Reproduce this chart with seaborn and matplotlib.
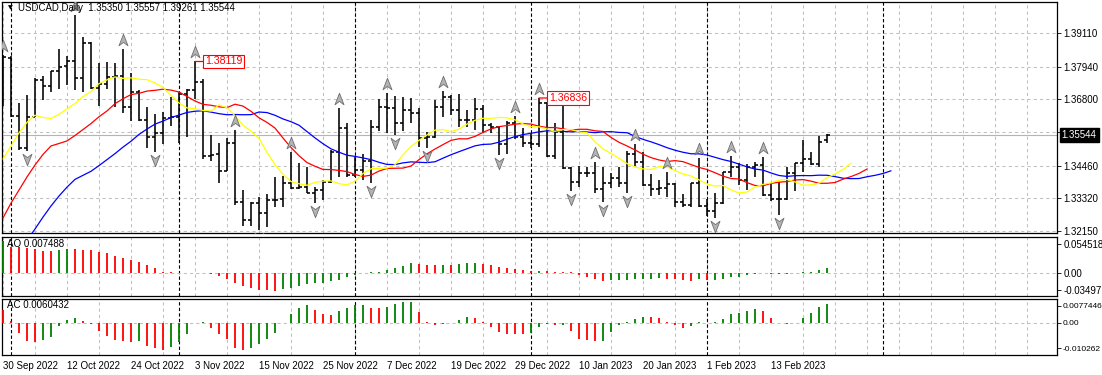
import numpy as np
import matplotlib
matplotlib.use("Agg")
import matplotlib.pyplot as plt
import seaborn as sns
from matplotlib.path import Path
from matplotlib.transforms import offset_copy, blended_transform_factory

# ---------------- data ----------------
opens = [1.3677, 1.3823, 1.3622, 1.3509, 1.3618, 1.3747, 1.3726, 1.3779, 1.3796, 1.3814,
         1.3753, 1.3878, 1.3718, 1.3733, 1.3759, 1.3761, 1.3651, 1.3705, 1.3606, 1.3548,
         1.3560, 1.3612, 1.3618, 1.3697, 1.3712, 1.3741, 1.3478, 1.3487, 1.3428, 1.3527,
         1.3319, 1.3253, 1.3314, 1.3278, 1.3325, 1.3328, 1.3384, 1.3366, 1.3372, 1.3351,
         1.3360, 1.3390, 1.3495, 1.3577, 1.3413, 1.3430, 1.3463, 1.3583, 1.3651, 1.3647,
         1.3595, 1.3642, 1.3630, 1.3542, 1.3545, 1.3653, 1.3688, 1.3642, 1.3606, 1.3606,
         1.3644, 1.3589, 1.3583, 1.3522, 1.3597, 1.3548, 1.3524, 1.3522, 1.3665, 1.3480,
         1.3565, 1.3437, 1.3390, 1.3421, 1.3419, 1.3363, 1.3384, 1.3401, 1.3384, 1.3487,
         1.3460, 1.3378, 1.3363, 1.3366, 1.3381, 1.3319, 1.3308, 1.3386, 1.3304, 1.3288,
         1.3314, 1.3425, 1.3442, 1.3396, 1.3442, 1.3448, 1.3343, 1.3328, 1.3328, 1.3419,
         1.3456, 1.3468, 1.3452, 1.3535]
highs = [1.3835, 1.3831, 1.3665, 1.3694, 1.3755, 1.3761, 1.3780, 1.3855, 1.3831, 1.3977,
         1.3897, 1.3882, 1.3808, 1.3811, 1.3806, 1.3855, 1.3773, 1.3712, 1.3651, 1.3628,
         1.3636, 1.3686, 1.3703, 1.3714, 1.38119, 1.3749, 1.3554, 1.3524, 1.3542, 1.3571,
         1.3360, 1.3319, 1.3337, 1.3345, 1.3405, 1.3410, 1.3495, 1.3454, 1.3442, 1.3372,
         1.3396, 1.3501, 1.3647, 1.3595, 1.3475, 1.3487, 1.3606, 1.3679, 1.3700, 1.3691,
         1.3688, 1.3683, 1.3647, 1.3565, 1.3677, 1.3709, 1.3694, 1.3698, 1.3642, 1.3683,
         1.3659, 1.3595, 1.3585, 1.3604, 1.3620, 1.3577, 1.3560, 1.36836, 1.3671, 1.3595,
         1.3665, 1.3442, 1.3445, 1.3442, 1.3457, 1.3440, 1.3419, 1.3442, 1.3499, 1.3522,
         1.3495, 1.3417, 1.3396, 1.3425, 1.3384, 1.3347, 1.3386, 1.3472, 1.3328, 1.3349,
         1.3425, 1.3478, 1.3456, 1.3452, 1.3460, 1.3475, 1.3384, 1.3390, 1.3442, 1.3456,
         1.3536, 1.3495, 1.3550, 1.35557]
lows = [1.3656, 1.3618, 1.3501, 1.3499, 1.3616, 1.3677, 1.3703, 1.3714, 1.3729, 1.3710,
        1.3706, 1.3714, 1.3656, 1.3714, 1.3653, 1.3630, 1.3604, 1.3604, 1.3507, 1.3495,
        1.3522, 1.3585, 1.3527, 1.3545, 1.3679, 1.3468, 1.3463, 1.3386, 1.3426, 1.3308,
        1.3234, 1.3235, 1.3220, 1.3231, 1.3299, 1.3299, 1.3363, 1.3363, 1.3349, 1.3316,
        1.3325, 1.3386, 1.3407, 1.3407, 1.3407, 1.3396, 1.3384, 1.3569, 1.3560, 1.3554,
        1.3569, 1.3595, 1.3513, 1.3507, 1.3542, 1.3616, 1.3624, 1.3583, 1.3583, 1.3571,
        1.3560, 1.3560, 1.3483, 1.3487, 1.3538, 1.3513, 1.3507, 1.3513, 1.3475, 1.3468,
        1.3433, 1.3355, 1.3372, 1.3407, 1.3349, 1.3319, 1.3366, 1.3372, 1.3349, 1.3445,
        1.3375, 1.3339, 1.3343, 1.3337, 1.3299, 1.3301, 1.3301, 1.3299, 1.3269, 1.3261,
        1.3311, 1.3405, 1.3378, 1.3360, 1.3407, 1.3339, 1.3323, 1.3272, 1.3325, 1.3355,
        1.3425, 1.3448, 1.3442, 1.3527]
closes = [1.3827, 1.3622, 1.3509, 1.3618, 1.3747, 1.3726, 1.3779, 1.3794, 1.3814, 1.3753,
          1.3878, 1.3718, 1.3733, 1.3759, 1.3761, 1.3651, 1.3705, 1.3606, 1.3548, 1.3560,
          1.3612, 1.3618, 1.3697, 1.3712, 1.3741, 1.3478, 1.3483, 1.3428, 1.3527, 1.3319,
          1.3253, 1.3314, 1.3278, 1.3325, 1.3325, 1.3384, 1.3366, 1.3372, 1.3351, 1.3360,
          1.3390, 1.3495, 1.3577, 1.3413, 1.3430, 1.3463, 1.3583, 1.3651, 1.3647, 1.3595,
          1.3642, 1.3630, 1.3542, 1.3545, 1.3653, 1.3688, 1.3642, 1.3606, 1.3606, 1.3644,
          1.3589, 1.3583, 1.3522, 1.3597, 1.3548, 1.3524, 1.3522, 1.3665, 1.3480, 1.3565,
          1.3437, 1.3390, 1.3421, 1.3419, 1.3363, 1.3384, 1.3401, 1.3384, 1.3487, 1.3460,
          1.3378, 1.3363, 1.3366, 1.3381, 1.3319, 1.3308, 1.3386, 1.3304, 1.3288, 1.3314,
          1.3425, 1.3442, 1.3396, 1.3442, 1.3448, 1.3343, 1.3328, 1.3328, 1.3419, 1.3456,
          1.3468, 1.3452, 1.3530, 1.35544]

# Awesome Oscillator and Accelerator values per bar
ao = [0.0483, 0.0392, 0.0382, 0.0372, 0.0352, 0.0332, 0.0322, 0.0342, 0.0357, 0.0352,
      0.0350, 0.0342, 0.0307, 0.0292, 0.0257, 0.0221, 0.0191, 0.0156, 0.0116, 0.0070,
      0.0015, 0.0003, -0.0003, -0.0006, -0.0002, -0.0008, -0.0030, -0.0060, -0.0101, -0.0156,
      -0.0206, -0.0236, -0.0262, -0.0272, -0.0287, -0.0257, -0.0231, -0.0211, -0.0171, -0.0165,
      -0.0156, -0.0136, -0.0111, -0.0075, -0.0040, -0.0008, 0.0003, 0.0005, 0.0040, 0.0070,
      0.0100, 0.0146, 0.0131, 0.0118, 0.0115, 0.0120, 0.0116, 0.0131, 0.0146, 0.0150,
      0.0131, 0.0116, 0.0086, 0.0070, 0.0055, 0.0040, 0.0020, 0.0030, 0.0020, 0.0010,
      0.0005, 0.0001, -0.0040, -0.0075, -0.0091, -0.0136, -0.0121, -0.0118, -0.0111, -0.0106,
      -0.0096, -0.0091, -0.0089, -0.0096, -0.0106, -0.0121, -0.0122, -0.0106, -0.0121, -0.0119,
      -0.0106, -0.0075, -0.0065, -0.0040, -0.0015, -0.0005, -0.0020, -0.0030, -0.0015, -0.0008,
      0.0002, 0.0010, 0.0040, 0.007488]
ac = [0.0042, 0.0006, -0.0034, -0.0060, -0.0064, -0.0057, -0.0045, -0.0012, 0.0009, 0.0016,
      0.0006, -0.0005, -0.0028, -0.0042, -0.0057, -0.0060, -0.0064, -0.0060, -0.0074, -0.0083,
      -0.0089, -0.0078, -0.0064, -0.0038, -0.0002, 0.0003, -0.0016, -0.0038, -0.0054, -0.0081,
      -0.0089, -0.0083, -0.0069, -0.0054, -0.0034, -0.0002, 0.0029, 0.0048, 0.0055, 0.0039,
      0.0029, 0.0023, 0.0036, 0.0048, 0.0055, 0.0058, 0.0048, 0.0046, 0.0049, 0.0061,
      0.0065, 0.0066, 0.0034, 0.0002, -0.0008, -0.0005, -0.0001, 0.0008, 0.0018, 0.0014,
      0.0001, -0.0014, -0.0030, -0.0036, -0.0037, -0.0038, -0.0035, -0.0014, -0.0005, -0.0008,
      -0.0007, -0.0027, -0.0052, -0.0057, -0.0060, -0.0058, -0.0030, -0.0008, 0.0001, 0.0011,
      0.0018, 0.0017, 0.0014, 0.0003, -0.0008, -0.0017, -0.0010, 0.0002, -0.0002, 0.0001,
      0.0011, 0.0027, 0.0031, 0.0037, 0.0043, 0.0037, 0.0014, -0.0001, -0.0003, 0.0000,
      0.0014, 0.0030, 0.0051, 0.0060432]
ao_first_rising = True
ac_first_rising = False

# Alligator lines before the first bar (values read at the left edge)
jaw_head = [1.3058, 1.3100, 1.3142, 1.3184, 1.3223, 1.3265, 1.3304, 1.3339]
teeth_head = [1.3262, 1.3314, 1.3360, 1.3406, 1.3448]
lips_head = [1.3469, 1.3515, 1.3561]

up_fractals = [0, 9, 15, 24, 29, 36, 42, 48, 55, 64, 67, 74, 79, 83, 87, 91, 95]
down_fractals = [3, 19, 32, 39, 46, 49, 53, 62, 71, 75, 78, 89, 97]
labelled_highs = [24, 67]

date_labels = ["30 Sep 2022", "12 Oct 2022", "24 Oct 2022", "3 Nov 2022", "15 Nov 2022",
               "25 Nov 2022", "7 Dec 2022", "19 Dec 2022", "29 Dec 2022", "10 Jan 2023",
               "20 Jan 2023", "1 Feb 2023", "13 Feb 2023"]
price_levels = [1.32150, 1.33320, 1.34460, 1.35630, 1.36800, 1.37940, 1.39110]
price_labels = ["1.32150", "1.33320", "1.34460", "", "1.36800", "1.37940", "1.39110"]
month_starts = [1, 22, 44, 66, 88, 110]
header = "USDCAD,Daily  1.35350 1.35557 1.39261 1.35544"
ao_range = (-0.03497, 0.054518)
ao_labels = ["-0.03497", "0.00", "0.054518"]
ac_range = (-0.0102629, 0.0077446)
ac_labels = ["-0.010262", "0.00", "0.0077446"]
ao_title = "AO 0.007488"
ac_title = "AC 0.0060432"

# ---------------- figure ----------------
sns.set_theme(style="white")
plt.rcParams['font.family'] = ['Liberation Sans', 'DejaVu Sans']
FS = 7.0
W, H = 1102, 375
fig = plt.figure(figsize=(W / 100, H / 100), dpi=100)
fig.patch.set_facecolor("white")


def rect(left, top, right, bottom):
    return [left / W, 1 - bottom / H, (right - left) / W, (bottom - top) / H]


ax = fig.add_axes(rect(2, 2, 1057, 233.3))
ax_ao = fig.add_axes(rect(2, 236.7, 1057, 295.5))
ax_ac = fig.add_axes(rect(2, 298.5, 1057, 354.5))

n = len(closes)
x = np.arange(n)
o, h, l, c = map(np.asarray, (opens, highs, lows, closes))
XL = (-0.125, 131.75)
GRID = dict(color="#c0c0c0", linestyle=(0, (3, 3)), linewidth=0.75)

for a in (ax, ax_ao, ax_ac):
    a.set_xlim(*XL)
    a.set_facecolor("white")
    a.set_xticks(np.arange(0, 132, 4), minor=True)
    a.grid(which="minor", axis="x", **GRID)
    a.tick_params(which="minor", length=0)
    for s in a.spines.values():
        s.set_color("black")
        s.set_linewidth(0.9)
    for m in month_starts:
        a.axvline(m, color="black", linestyle=(0, (3, 2)), linewidth=0.8, zorder=1)
    a.yaxis.tick_right()
    a.tick_params(axis="y", which="major", direction="out", length=3, width=0.6,
                  pad=1.5, labelsize=FS, colors="black")

# ---- main price panel ----
ax.set_ylim(1.32080, 1.40210)
ax.set_yticks(price_levels)
ax.set_yticklabels(price_labels)
ax.grid(which="major", axis="y", **GRID)
ax.set_xticks([])
ax.axhline(c[-1], color="#b4b4b4", linewidth=0.8, zorder=1)

ax.vlines(x, l, h, color="black", linewidth=1.15, zorder=3)
ax.hlines(o, x - 0.42, x, color="black", linewidth=1.15, zorder=3)
ax.hlines(c, x, x + 0.42, color="black", linewidth=1.15, zorder=3)


def smma(values, period, seed):
    out, prev = [], seed
    for v in values:
        prev = (prev * (period - 1) + v) / period
        out.append(prev)
    return out


median = (h + l) / 2
jaw = jaw_head + smma(median, 13, jaw_head[-1])
teeth = teeth_head + smma(median, 8, teeth_head[-1])
lips = lips_head + smma(median, 5, lips_head[-1])
for vals, col in ((jaw, "#0000ff"), (teeth, "#ff0000"), (lips, "#ffff00")):
    sns.lineplot(x=np.arange(len(vals)), y=vals, ax=ax, color=col, linewidth=0.9,
                 zorder=4, legend=False)
ax.set_xlabel("")
ax.set_ylabel("")

up_path = Path([(0, 1), (0.72, -0.85), (0, -0.3), (-0.72, -0.85), (0, 1)],
               [Path.MOVETO, Path.LINETO, Path.LINETO, Path.LINETO, Path.CLOSEPOLY])
down_path = Path([(0, -1), (0.72, 0.85), (0, 0.3), (-0.72, 0.85), (0, -1)],
                 [Path.MOVETO, Path.LINETO, Path.LINETO, Path.LINETO, Path.CLOSEPOLY])
ax.plot(np.array(up_fractals), h[up_fractals], linestyle="none", marker=up_path,
        markersize=9, markerfacecolor="#b4b4b4", markeredgecolor="#6e6e6e",
        markeredgewidth=0.6, zorder=5,
        transform=offset_copy(ax.transData, fig=fig, y=9, units="dots"))
ax.plot(np.array(down_fractals), l[down_fractals], linestyle="none", marker=down_path,
        markersize=9, markerfacecolor="#b4b4b4", markeredgecolor="#6e6e6e",
        markeredgewidth=0.6, zorder=5,
        transform=offset_copy(ax.transData, fig=fig, y=-8, units="dots"))

for i in labelled_highs:
    ax.annotate(f"{h[i]:.5f}", xy=(i, h[i]), xytext=(10, 0), textcoords="offset pixels",
                ha="left", va="center", color="#ff0000", fontsize=FS + 0.6, zorder=6,
                bbox=dict(boxstyle="square,pad=0.15", fc="white", ec="#ff0000", lw=0.8),
                arrowprops=dict(arrowstyle="-", color="#ff0000", lw=0.9,
                                shrinkA=0, shrinkB=0))

blend = blended_transform_factory(ax.transAxes, ax.transData)
ax.text(1.0045, c[-1], f"{c[-1]:.5f}", transform=blend, ha="left", va="center",
        color="white", fontsize=FS, zorder=7,
        bbox=dict(boxstyle="square,pad=0.22", fc="black", ec="black"))

fig.text(8 / W, 1 - 8 / H, "\u25BC", fontsize=4.5, va="center", ha="left", color="black",
         family=["DejaVu Sans"])
fig.text(18 / W, 1 - 8 / H, header, fontsize=FS - 0.1, va="center", ha="left",
         color="black")


# ---- AO / AC panels ----
def hist_colors(vals, first_rising):
    v = np.asarray(vals)
    rising = np.concatenate([[first_rising], np.diff(v) > 0])
    return np.where(rising, "#008000", "#ff0000")


for a, vals, first, yr, labels, title, fr in (
        (ax_ao, ao, ao_first_rising, ao_range, ao_labels, ao_title, (0.876, 0.094)),
        (ax_ac, ac, ac_first_rising, ac_range, ac_labels, ac_title, (0.875, 0.11))):
    a.set_ylim(*yr)
    a.axhline(0, zorder=1, **GRID)
    a.vlines(x, 0, vals, colors=hist_colors(vals, first), linewidth=1.3, zorder=3)
    lo, hi = yr
    a.set_yticks([lo + fr[1] * (hi - lo), 0, lo + fr[0] * (hi - lo)])
    a.set_yticklabels(labels)
    a.text(5 / 1055, 0.88, title, transform=a.transAxes, fontsize=FS, ha="left",
           va="center", color="black", zorder=6)

ax_ac.tick_params(axis="y", labelsize=FS - 1.0, pad=1.0)
ax_ao.set_xticks([])
ax_ac.set_xticks(np.arange(0, 8 * len(date_labels), 8))
ax_ac.set_xticklabels(date_labels)
ax_ac.tick_params(axis="x", which="major", direction="out", length=3, width=0.6,
                  pad=1.5, labelsize=FS, colors="black")
for lab in ax_ac.get_xticklabels():
    lab.set_horizontalalignment("left")

fig.savefig("out.png", dpi=100, facecolor="white")
